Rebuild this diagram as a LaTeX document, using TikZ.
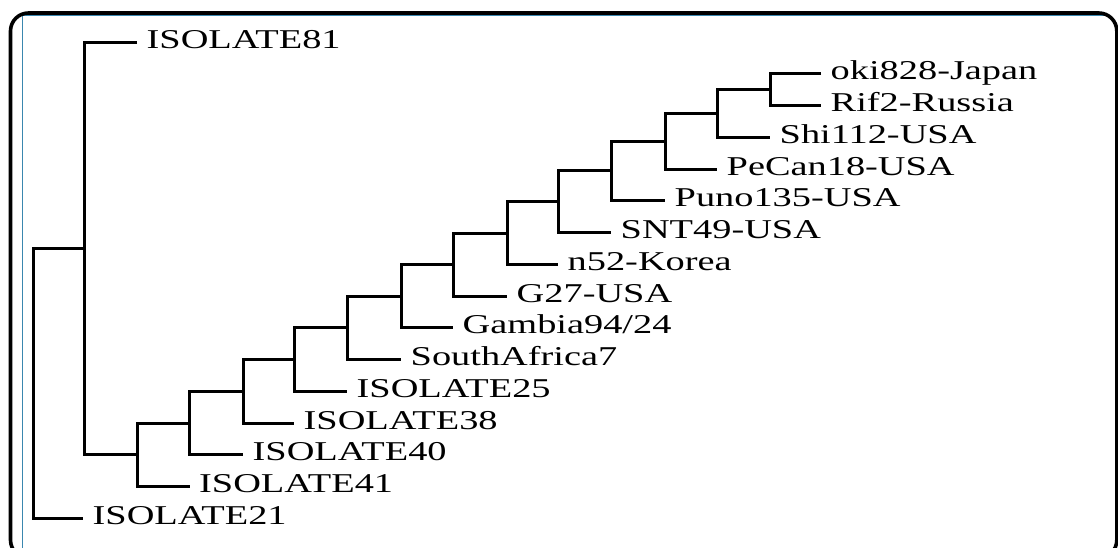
\documentclass[tikz,border=0pt]{standalone}
\usepackage{fontspec}
\setmainfont{Liberation Serif}[FakeStretch=1.41]
\definecolor{frameblue}{RGB}{58,135,175}

\begin{document}
\begin{tikzpicture}[x=1pt,y=-1pt,
  branch/.style={line width=3pt, line join=miter},
  leaflabel/.style={anchor=base west, inner sep=0pt, font=\fontsize{27.2}{30}\selectfont}]
\useasboundingbox (0,0) rectangle (1118,547);

% panel frame
\begin{scope}
  \clip (0,0) rectangle (1118,547);
  \draw[frameblue, line width=1.3pt] (1104,15.6) -- (22.7,15.6) -- (22.7,560);
  \draw[line width=3.6pt, rounded corners=18pt] (10.5,13) rectangle (1116.8,558);
\end{scope}

% internal nodes of the tree
\coordinate (n0)  at (33,383.3);
\coordinate (n1)  at (84.5,248.4);
\coordinate (n2)  at (137,454.75);
\coordinate (n3)  at (189.5,423.0);
\coordinate (n4)  at (243,391.3);
\coordinate (n5)  at (294,359.5);
\coordinate (n6)  at (347,327.8);
\coordinate (n7)  at (401,296.1);
\coordinate (n8)  at (453,264.5);
\coordinate (n9)  at (507,233.0);
\coordinate (n10) at (558,201.74);
\coordinate (n11) at (611,170.98);
\coordinate (n12) at (665,141.22);
\coordinate (n13) at (717,113.44);
\coordinate (n14) at (770,89.63);

% leaf tips
\coordinate (t0)  at (137,42);
\coordinate (t1)  at (821,73.75);
\coordinate (t2)  at (821,105.5);
\coordinate (t3)  at (770,137.25);
\coordinate (t4)  at (717,169);
\coordinate (t5)  at (665,200.75);
\coordinate (t6)  at (611,232.5);
\coordinate (t7)  at (558,264.25);
\coordinate (t8)  at (507,296);
\coordinate (t9)  at (453,327.75);
\coordinate (t10) at (401,359.5);
\coordinate (t11) at (347,391.25);
\coordinate (t12) at (294,423);
\coordinate (t13) at (243,454.75);
\coordinate (t14) at (189.5,486.5);
\coordinate (t15) at (83,518.25);

% branches
\draw[branch] (n1)  -| (n0)  |- (t15);
\draw[branch] (t0)  -| (n1)  |- (n2);
\draw[branch] (n3)  -| (n2)  |- (t14);
\draw[branch] (n4)  -| (n3)  |- (t13);
\draw[branch] (n5)  -| (n4)  |- (t12);
\draw[branch] (n6)  -| (n5)  |- (t11);
\draw[branch] (n7)  -| (n6)  |- (t10);
\draw[branch] (n8)  -| (n7)  |- (t9);
\draw[branch] (n9)  -| (n8)  |- (t8);
\draw[branch] (n10) -| (n9)  |- (t7);
\draw[branch] (n11) -| (n10) |- (t6);
\draw[branch] (n12) -| (n11) |- (t5);
\draw[branch] (n13) -| (n12) |- (t4);
\draw[branch] (n14) -| (n13) |- (t3);
\draw[branch] (t1)  -| (n14) |- (t2);

% leaf labels
\node[leaflabel] (l0)  at ([xshift=9.5pt,yshift=-6pt]t0)  {ISOLATE81};
\node[leaflabel] (l1)  at ([xshift=9.5pt,yshift=-6pt]t1)  {oki828-Japan};
\node[leaflabel] (l2)  at ([xshift=9.5pt,yshift=-6pt]t2)  {Rif2-Russia};
\node[leaflabel] (l3)  at ([xshift=9.5pt,yshift=-6pt]t3)  {Shi112-USA};
\node[leaflabel] (l4)  at ([xshift=9.5pt,yshift=-6pt]t4)  {PeCan18-USA};
\node[leaflabel] (l5)  at ([xshift=9.5pt,yshift=-6pt]t5)  {Puno135-USA};
\node[leaflabel] (l6)  at ([xshift=9.5pt,yshift=-6pt]t6)  {SNT49-USA};
\node[leaflabel] (l7)  at ([xshift=9.5pt,yshift=-6pt]t7)  {n52-Korea};
\node[leaflabel] (l8)  at ([xshift=9.5pt,yshift=-6pt]t8)  {G27-USA};
\node[leaflabel] (l9)  at ([xshift=9.5pt,yshift=-6pt]t9)  {Gambia94/24};
\node[leaflabel] (l10) at ([xshift=9.5pt,yshift=-6pt]t10) {SouthAfrica7};
\node[leaflabel] (l11) at ([xshift=9.5pt,yshift=-6pt]t11) {ISOLATE25};
\node[leaflabel] (l12) at ([xshift=9.5pt,yshift=-6pt]t12) {ISOLATE38};
\node[leaflabel] (l13) at ([xshift=9.5pt,yshift=-6pt]t13) {ISOLATE40};
\node[leaflabel] (l14) at ([xshift=9.5pt,yshift=-6pt]t14) {ISOLATE41};
\node[leaflabel] (l15) at ([xshift=9.5pt,yshift=-6pt]t15) {ISOLATE21};
\end{tikzpicture}
\end{document}
